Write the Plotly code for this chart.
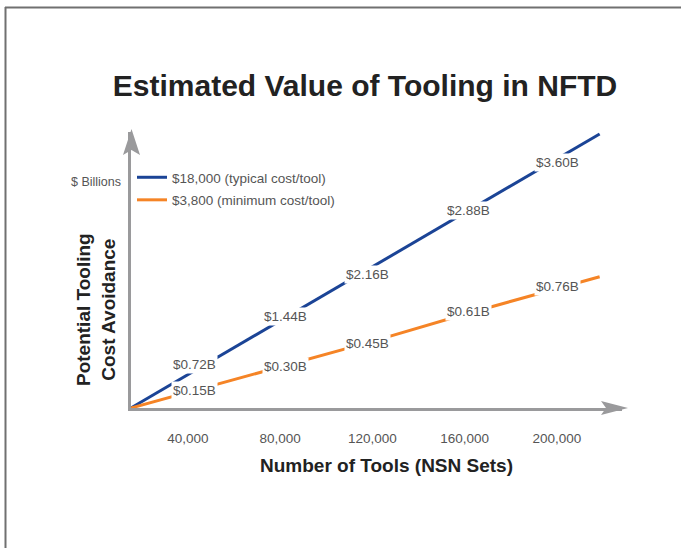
import plotly.graph_objects as go

# ---- data ----
tools = [40000, 80000, 120000, 160000, 200000]
typical_values = [0.72, 1.44, 2.16, 2.88, 3.60]      # $ billions at $18,000/tool
minimum_values = [0.15, 0.30, 0.45, 0.61, 0.76]      # $ billions at $3,800/tool
tick_labels = ["40,000", "80,000", "120,000", "160,000", "200,000"]
series_names = ["$18,000 (typical cost/tool)", "$3,800 (minimum cost/tool)"]
cost_per_tool = [18000, 3800]
line_extent = [15300, 218500]   # tool counts where the drawn lines start / end

# ---- label nudges (style, pixels) ----
label_xshift = [7, 5, -5, 4, 1]
typical_yshift = [10, 4, -8, 2, -4]
minimum_yshift = [2, 0, -2, 3, 2]

W, H = 681, 548
BLUE = "#1b4496"
ORANGE = "#f58426"
GRAY_TXT = "#555555"
AXIS = "#9a9a9c"
FONT = "Liberation Sans"

def px(x):
    return x / W

def py(y):
    return 1 - y / H

def full_line(values, cost):
    xs = [line_extent[0]] + tools + [line_extent[1]]
    ys = [line_extent[0] * cost / 1e9] + values + [line_extent[1] * cost / 1e9]
    return xs, ys

X_PER_PX = 1 / 0.0023063
fig = go.Figure()
bx, byv = full_line(typical_values, cost_per_tool[0])
ox, oyv = full_line(minimum_values, cost_per_tool[1])
fig.add_trace(go.Scatter(x=bx, y=byv, mode="lines", name=series_names[0],
                         line=dict(color=BLUE, width=3), yaxis="y",
                         legendgroup="a"))
fig.add_trace(go.Scatter(x=ox, y=oyv, mode="lines", name=series_names[1],
                         line=dict(color=ORANGE, width=3), yaxis="y2",
                         legendgroup="b"))

annotations = []
for t, v, dx, dy in zip(tools, typical_values, label_xshift, typical_yshift):
    annotations.append(dict(x=t, y=v, xref="x", yref="y", text=f"${v:.2f}B",
                            xshift=dx, yshift=dy,
                            showarrow=False, bgcolor="white", borderpad=1,
                            xanchor="center", yanchor="middle",
                            font=dict(family=FONT, size=13.5, color=GRAY_TXT)))
for t, v, dx, dy in zip(tools, minimum_values, label_xshift, minimum_yshift):
    annotations.append(dict(x=t, y=v, xref="x", yref="y2", text=f"${v:.2f}B",
                            xshift=dx, yshift=dy,
                            showarrow=False, bgcolor="white", borderpad=1,
                            xanchor="center", yanchor="middle",
                            font=dict(family=FONT, size=13.5, color=GRAY_TXT)))

annotations += [
    dict(x=px(96), y=py(182), xref="paper", yref="paper", text="$ Billions",
         xanchor="center", yanchor="middle",
         showarrow=False, font=dict(family=FONT, size=12.5, color=GRAY_TXT)),
    dict(x=px(96), y=py(310), xref="paper", yref="paper",
         text="<b>Potential Tooling<br>Cost Avoidance</b>", textangle=-90,
         xanchor="center", yanchor="middle",
         showarrow=False, font=dict(family=FONT, size=19, color="#222222")),
    dict(x=px(386), y=py(465), xref="paper", yref="paper",
         text="<b>Number of Tools (NSN Sets)</b>",
         xanchor="center", yanchor="middle",
         showarrow=False, font=dict(family=FONT, size=19, color="#222222")),
]

shapes = [
    # frame (top & left)
    dict(type="line", xref="paper", yref="paper", x0=px(5), x1=1, y0=py(7.5), y1=py(7.5),
         line=dict(color="#707070", width=2)),
    dict(type="line", xref="paper", yref="paper", x0=px(5.5), x1=px(5.5), y0=py(7), y1=0,
         line=dict(color="#707070", width=2)),
    # y arrowhead
    dict(type="path", xref="paper", yref="paper",
         path=f"M{px(131.5)},{py(129)} L{px(123)},{py(155)} L{px(131.5)},{py(150)} L{px(140)},{py(155)} Z",
         fillcolor=AXIS, line=dict(width=0)),
    # x arrowhead
    dict(type="path", xref="paper", yref="paper",
         path=f"M{px(628)},{py(408)} L{px(601)},{py(401)} L{px(606)},{py(408)} L{px(601)},{py(415)} Z",
         fillcolor=AXIS, line=dict(width=0)),
]

Y_TOP = 132
X_RIGHT = 622
fig.update_layout(
    width=W, height=H,
    margin=dict(l=0, r=0, t=0, b=0),
    paper_bgcolor="white", plot_bgcolor="white",
    font=dict(family=FONT, color=GRAY_TXT),
    title=dict(text="<b>Estimated Value of Tooling in NFTD</b>", x=px(365), y=py(85),
               xanchor="center", yanchor="middle",
               font=dict(family=FONT, size=30, color="#222222")),
    xaxis=dict(domain=[px(131), px(X_RIGHT)],
               range=[15300, 15300 + (X_RIGHT - 131) * X_PER_PX],
               tickvals=tools, ticktext=tick_labels, ticks="", showgrid=False,
               zeroline=False, showline=True, linecolor=AXIS, linewidth=3,
               ticklabelstandoff=16,
               tickfont=dict(family=FONT, size=13.5, color=GRAY_TXT)),
    yaxis=dict(domain=[py(408), py(Y_TOP)], range=[0.2737, 0.2737 + (408 - Y_TOP) / 74.9],
               showticklabels=False, ticks="", showgrid=False, zeroline=False,
               showline=True, linecolor=AXIS, linewidth=3),
    yaxis2=dict(overlaying="y", range=[0.0582, 0.0582 + (408 - Y_TOP) / 170.0],
                visible=False),
    showlegend=True,
    legend=dict(x=px(132), y=py(162), xanchor="left", yanchor="top",
                traceorder="grouped", tracegroupgap=2,
                bgcolor="rgba(0,0,0,0)",
                font=dict(family=FONT, size=13.5, color=GRAY_TXT)),
    annotations=annotations,
    shapes=shapes,
)

fig.write_html("out.html", config={"displayModeBar": False},
               post_script="document.body.style.margin='0px';document.body.style.overflow='hidden';")
